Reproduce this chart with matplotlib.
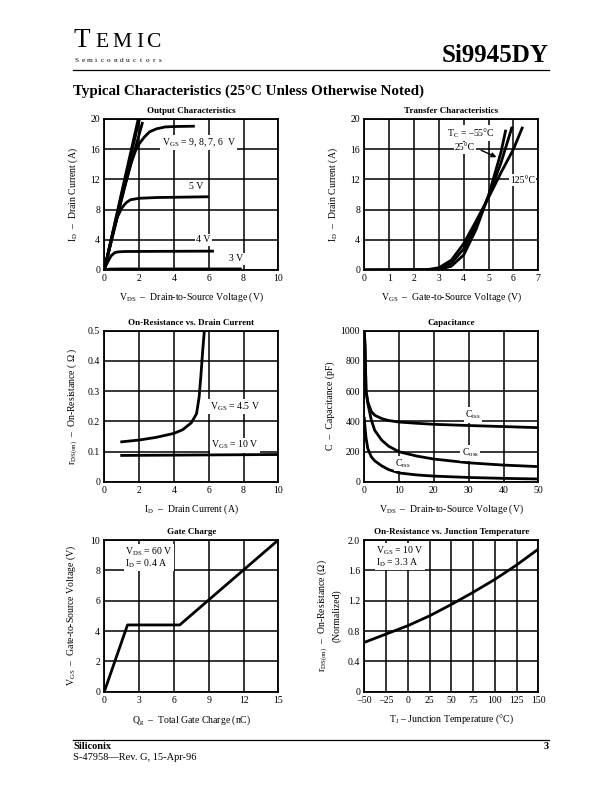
import numpy as np
import matplotlib
matplotlib.use("Agg")
import matplotlib.pyplot as plt

plt.rcParams["font.family"] = ["Liberation Serif", "DejaVu Serif"]
plt.rcParams["mathtext.fontset"] = "custom"
plt.rcParams["mathtext.rm"] = "Liberation Serif"
plt.rcParams["mathtext.it"] = "Liberation Serif:italic"

# --- Output characteristics (VDS, ID) per VGS
out_vds_9 = [0, 1.0, 1.95]
out_id_9 = [0, 10.3, 20.0]
out_vds_8 = [0, 1.0, 2.02]
out_id_8 = [0, 10.0, 20.0]
out_vds_7 = [0, 1.0, 2.2]
out_id_7 = [0, 9.6, 19.6]
out_vds_6 = [0, 0.5, 1.0, 1.5, 1.8, 2.0, 2.3, 2.6, 3.0, 3.5, 4.0, 5.2]
out_id_6 = [0, 4.7, 9.4, 14.0, 15.8, 16.7, 17.6, 18.3, 18.7, 18.95, 19.0, 19.05]
out_vds_5 = [0, 0.25, 0.5, 0.75, 1.0, 1.25, 1.5, 2.0, 3.0, 6.0]
out_id_5 = [0, 2.6, 5.0, 7.0, 8.2, 8.9, 9.3, 9.5, 9.6, 9.7]
out_vds_4 = [0, 0.1, 0.25, 0.4, 0.6, 0.8, 1.2, 6.3]
out_id_4 = [0, 0.6, 1.3, 1.9, 2.3, 2.4, 2.45, 2.5]
out_vds_3 = [0, 0.3, 1.0, 7.9]
out_id_3 = [0, 0.12, 0.14, 0.14]
out_vds_2 = [0, 5.0]
out_id_2 = [0.03, 0.05]

# --- Transfer characteristics (VGS, ID) per TC
tr_vgs_125 = [0, 2.5, 3.0, 3.5, 4.0, 4.5, 5.0, 5.5, 6.0, 6.35]
tr_id_125 = [0, 0.03, 0.3, 1.3, 3.5, 6.5, 9.6, 12.9, 16.0, 18.8]
tr_vgs_25 = [0, 2.7, 3.0, 3.5, 4.0, 4.5, 5.0, 5.5, 5.93]
tr_id_25 = [0, 0.03, 0.15, 0.9, 2.8, 6.0, 9.8, 14.2, 18.8]
tr_vgs_m55 = [0, 3.0, 3.5, 4.0, 4.5, 5.0, 5.5, 5.68]
tr_id_m55 = [0, 0.05, 0.5, 2.0, 5.4, 9.9, 15.6, 18.4]

# --- On-resistance vs drain current
ron_id_45 = [1, 2, 3, 4, 4.5, 5.0, 5.3, 5.45, 5.55, 5.65, 5.75]
ron_r_45 = [0.132, 0.138, 0.147, 0.160, 0.172, 0.195, 0.225, 0.28, 0.35, 0.43, 0.5]
ron_id_10 = [1, 10]
ron_r_10 = [0.087, 0.09]

# --- Capacitance
cap_vds = [0, 0.2, 0.5, 1, 2, 3, 5, 7, 10, 15, 20, 30, 40, 50]
c_iss = [1000, 900, 600, 530, 465, 440, 418, 405, 395, 387, 380, 372, 365, 358]
c_oss = [1000, 900, 600, 520, 410, 340, 275, 235, 198, 170, 150, 125, 110, 100]
c_rss = [420, 360, 290, 220, 165, 138, 105, 80, 58, 45, 37, 28, 22, 18]

# --- Gate charge
qg = [0, 2.0, 6.5, 15]
vgs_qg = [0, 4.4, 4.4, 10]

# --- On-resistance vs junction temperature
tj = [-50, -25, 0, 25, 50, 75, 100, 125, 150]
ron_norm = [0.65, 0.76, 0.87, 1.0, 1.15, 1.31, 1.48, 1.67, 1.88]

W, H = 612, 792
fig = plt.figure(figsize=(W / 100, H / 100), dpi=100)


def px_axes(x0, y0, x1, y1):
    return fig.add_axes([x0 / W, 1 - y1 / H, (x1 - x0) / W, (y1 - y0) / H])


def style(ax, title, xlabel, ylabel, xlim, ylim, xt, yt, ylab_px, xtl=None, ytl=None):
    ax.set_xlim(*xlim)
    ax.set_ylim(*ylim)
    ax.set_xticks(xt)
    ax.set_yticks(yt)
    if xtl is not None:
        ax.set_xticklabels(xtl)
    if ytl is not None:
        ax.set_yticklabels(ytl)
    ax.grid(True, color="black", lw=1.1)
    ax.set_axisbelow(True)
    ax.tick_params(length=0, pad=3, labelsize=7)
    for s in ax.spines.values():
        s.set_linewidth(1.3)
    ax.set_title(title, fontsize=6.5, fontweight="bold", pad=4)
    ax.set_xlabel(xlabel, fontsize=7)
    ax.set_ylabel(ylabel, fontsize=7)
    # label positions in pixels from the axes edge
    ax.xaxis.set_label_coords(0.5, -21 / 151)
    ax.yaxis.set_label_coords(-ylab_px / 174, 0.5)


LW = 2.0
bb = dict(facecolor="white", edgecolor="none", pad=1)
LX0, LX1 = 104.3, 278.3
RX0, RX1 = 364.3, 538.3

# Output characteristics
ax = px_axes(LX0, 119, LX1, 270)
for xs, ys in [(out_vds_9, out_id_9), (out_vds_8, out_id_8), (out_vds_7, out_id_7),
               (out_vds_6, out_id_6), (out_vds_5, out_id_5), (out_vds_4, out_id_4),
               (out_vds_3, out_id_3), (out_vds_2, out_id_2)]:
    ax.plot(xs, ys, color="black", lw=LW, solid_capstyle="butt")
style(ax, "Output Characteristics", r"V$_{\rm DS}$  –  Drain-to-Source Voltage (V)",
      r"I$_{\rm D}$  –  Drain Current (A)", (0, 10), (0, 20), range(0, 11, 2), range(0, 21, 4), 24)
ax.text(3.3, 16.9, r"V$_{\rm GS}$ = 9, 8, 7, 6  V", fontsize=7, va="center", bbox=bb)
ax.text(5.3, 11.0, "5 V", fontsize=7, ha="center", va="center", bbox=bb)
ax.text(5.7, 4.0, "4 V", fontsize=7, ha="center", va="center", bbox=bb)
ax.text(7.6, 1.5, "3 V", fontsize=7, ha="center", va="center", bbox=bb)

# Transfer characteristics
ax = px_axes(RX0, 119, RX1, 270)
for xs, ys in [(tr_vgs_125, tr_id_125), (tr_vgs_25, tr_id_25), (tr_vgs_m55, tr_id_m55)]:
    ax.plot(xs, ys, color="black", lw=LW)
style(ax, "Transfer Characteristics", r"V$_{\rm GS}$  –  Gate-to-Source Voltage (V)",
      r"I$_{\rm D}$  –  Drain Current (A)", (0, 7), (0, 20), range(0, 8), range(0, 21, 4), 24)
ax.text(4.3, 18.1, r"T$_{\rm C}$ = –55°C", fontsize=7, ha="center", va="center", bbox=bb)
ax.text(4.05, 16.2, "25°C", fontsize=7, ha="center", va="center", bbox=bb)
ax.annotate("", xy=(5.42, 14.8), xytext=(4.6, 16.0),
            arrowprops=dict(arrowstyle="-|>", color="black", lw=1.0, mutation_scale=7))
ax.text(6.36, 11.9, "125°C", fontsize=7, ha="center", va="center", bbox=bb)

# On-resistance vs drain current
ax = px_axes(LX0, 330.7, LX1, 481.7)
ax.plot(ron_id_45, ron_r_45, color="black", lw=LW)
ax.plot(ron_id_10, ron_r_10, color="black", lw=LW)
style(ax, "On-Resistance vs. Drain Current", r"I$_{\rm D}$  –  Drain Current (A)",
      r"r$_{\rm DS(on)}$  –  On-Resistance ( Ω )", (0, 10), (0, 0.5), range(0, 11, 2),
      [0, 0.1, 0.2, 0.3, 0.4, 0.5], 24, ytl=["0", "0.1", "0.2", "0.3", "0.4", "0.5"])
ax.text(7.5, 0.248, r"V$_{\rm GS}$ = 4.5 V", fontsize=7, ha="center", va="center", bbox=bb)
ax.text(7.5, 0.121, r"V$_{\rm GS}$ = 10 V", fontsize=7, ha="center", va="center", bbox=bb)

# Capacitance
ax = px_axes(RX0, 330.7, RX1, 481.7)
for ys in (c_iss, c_oss, c_rss):
    ax.plot(cap_vds, ys, color="black", lw=LW)
style(ax, "Capacitance", r"V$_{\rm DS}$  –  Drain-to-Source Voltage (V)",
      "C  –  Capacitance (pF)", (0, 50), (0, 1000), range(0, 51, 10), range(0, 1001, 200), 29)
ax.text(31.3, 442, r"C$_{\rm iss}$", fontsize=7, ha="center", va="center", bbox=bb)
ax.text(30.4, 190, r"C$_{\rm oss}$", fontsize=7, ha="center", va="center", bbox=bb)
ax.text(11.1, 120, r"C$_{\rm rss}$", fontsize=7, ha="center", va="center", bbox=bb)

# Gate charge
ax = px_axes(LX0, 540, LX1, 691.7)
ax.plot(qg, vgs_qg, color="black", lw=LW)
style(ax, "Gate Charge", r"Q$_{\rm g}$  –  Total Gate Charge (nC)",
      r"V$_{\rm GS}$  –  Gate-to-Source Voltage (V)", (0, 15), (0, 10), range(0, 16, 3),
      range(0, 11, 2), 26)
ax.text(1.8, 8.85, "V$_{\\rm DS}$ = 60 V\nI$_{\\rm D}$ = 0.4 A", fontsize=7, va="center",
        linespacing=0.95, bbox=bb)

# On-resistance vs junction temperature
ax = px_axes(RX0, 540, RX1, 691.7)
ax.plot(tj, ron_norm, color="black", lw=LW)
style(ax, "On-Resistance vs. Junction Temperature", r"T$_{\rm J}$ – Junction Temperature (°C)",
      "r$_{\\rm DS(on)}$  –  On-Resistance (Ω)\n(Normalized)", (-50, 150), (0, 2.0),
      range(-50, 151, 25), [0, 0.4, 0.8, 1.2, 1.6, 2.0], 23,
      xtl=["–50", "–25", "0", "25", "50", "75", "100", "125", "150"],
      ytl=["0", "0.4", "0.8", "1.2", "1.6", "2.0"])
ax.text(-36, 1.78, "V$_{\\rm GS}$ = 10 V\nI$_{\\rm D}$ = 3.3 A", fontsize=7, va="center",
        linespacing=0.95, bbox=bb)

# Header
ft = fig.transFigure
def fx(x):
    return x / W
def fy(y):
    return 1 - y / H

fig.text(fx(74), fy(47), "T", fontsize=19.5, transform=ft, va="baseline")
for ch, x in zip("EMIC", [95, 112, 136, 146]):
    fig.text(fx(x), fy(47), ch, fontsize=15.5, transform=ft, va="baseline")
for ch, x in zip("Semiconductors", np.linspace(77, 160, 14)):
    fig.text(fx(x), fy(61.5), ch, fontsize=5.2, ha="center", transform=ft, va="baseline")
fig.text(fx(549), fy(62), "Si9945DY", fontsize=18, fontweight="bold", ha="right",
         va="baseline", transform=ft)
fig.add_artist(plt.Line2D([fx(73), fx(549)], [fy(70), fy(70)], color="black", lw=0.9))
fig.text(fx(73), fy(95), "Typical Characteristics (25°C Unless Otherwise Noted)",
         fontsize=10.8, fontweight="bold", va="baseline", transform=ft)

# Footer
fig.add_artist(plt.Line2D([fx(73), fx(549)], [fy(740), fy(740)], color="black", lw=0.9))
fig.text(fx(73), fy(749), "Siliconix", fontsize=7.5, fontweight="bold", va="baseline", transform=ft)
fig.text(fx(549), fy(749), "3", fontsize=7.5, fontweight="bold", ha="right", va="baseline",
         transform=ft)
fig.text(fx(73), fy(760), "S-47958—Rev. G, 15-Apr-96", fontsize=7.5, va="baseline", transform=ft)

fig.savefig("out.png", dpi=100)
